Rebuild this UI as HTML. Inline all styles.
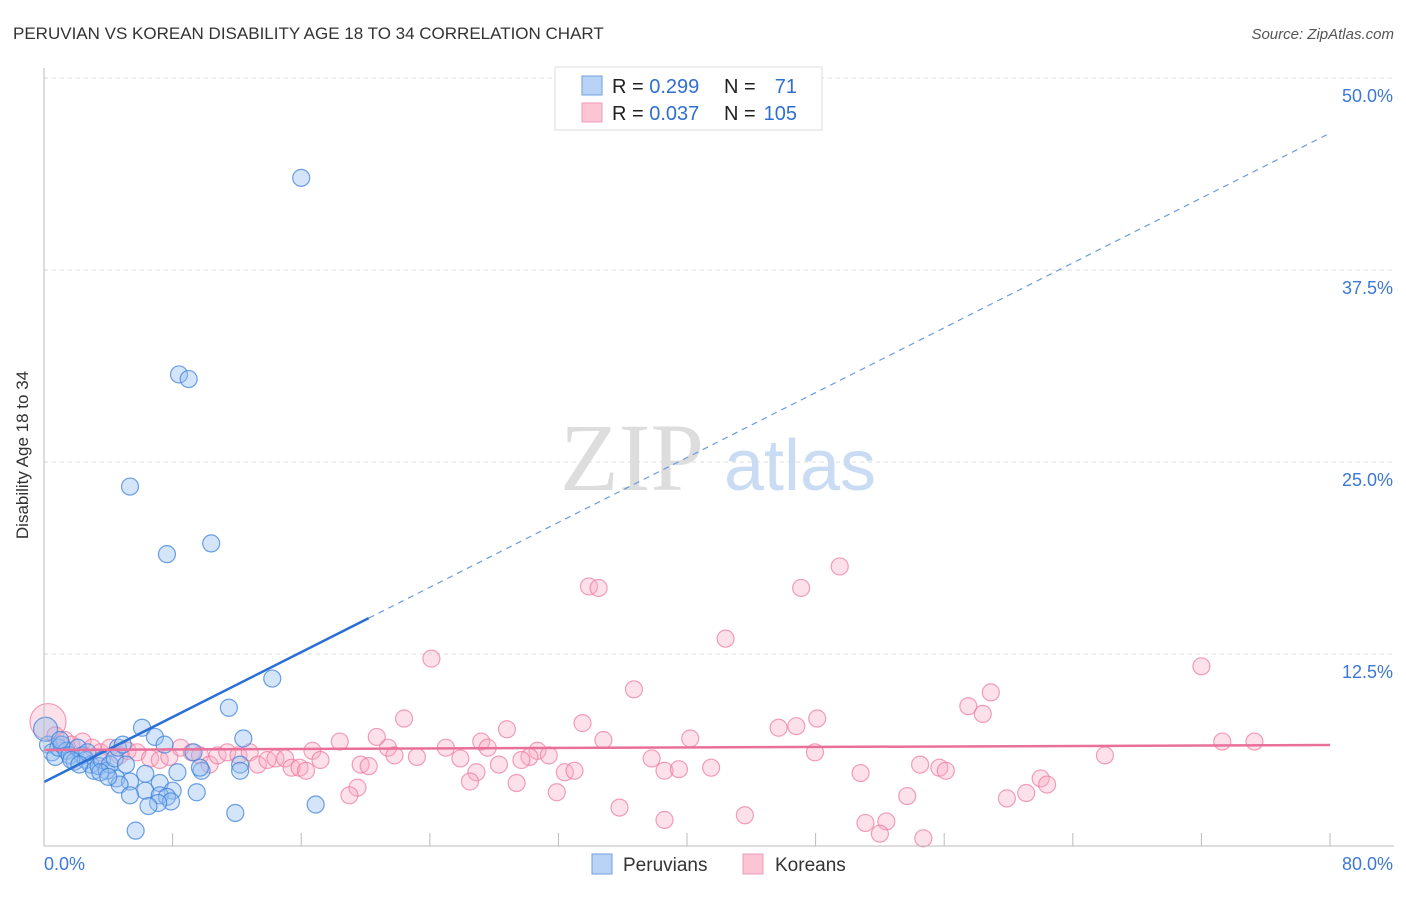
<!DOCTYPE html>
<html><head><meta charset="utf-8"><style>
body{margin:0;background:#fff;font-family:"Liberation Sans",sans-serif}
svg text{font-family:"Liberation Sans",sans-serif}
</style></head><body>
<svg id="chart" width="1406" height="892" xmlns="http://www.w3.org/2000/svg">
<text x="13" y="39" font-size="17" fill="#333">PERUVIAN VS KOREAN DISABILITY AGE 18 TO 34 CORRELATION CHART</text>
<text x="1394" y="39" font-size="15" fill="#555" font-style="italic" text-anchor="end">Source: ZipAtlas.com</text>
<g id="grid"></g>
<g>
<text x="632" y="490" font-size="96" fill="#ddd" font-family="Liberation Serif" text-anchor="middle" style="font-family:'Liberation Serif',serif">ZIP</text>
<text x="800" y="490" font-size="72" fill="#c9dcf3" text-anchor="middle">atlas</text>
</g>
<g id="pts"></g>
<g id="lines"></g>
<text x="28" y="455" font-size="17" fill="#333" text-anchor="middle" transform="rotate(-90 28 455)">Disability Age 18 to 34</text>
<g id="ticks"></g>
<g>
<rect x="555" y="67" width="267" height="63" fill="#fff" stroke="#ddd"/>
<rect x="582" y="76" width="20" height="19" fill="#b8d3f5" stroke="#6fa0e0"/>
<rect x="582" y="103" width="20" height="19" fill="#fbc5d5" stroke="#f09ab4"/>
<text x="612" y="93" font-size="20" fill="#222">R = <tspan fill="#2f6fd0">0.299</tspan></text>
<text x="724" y="93" font-size="20" fill="#222">N = </text><text x="797" y="93" font-size="20" fill="#2f6fd0" text-anchor="end">71</text>
<text x="612" y="120" font-size="20" fill="#222">R = <tspan fill="#2f6fd0">0.037</tspan></text>
<text x="724" y="120" font-size="20" fill="#222">N = </text><text x="797" y="120" font-size="20" fill="#2f6fd0" text-anchor="end">105</text>
</g>
<g>
<rect x="592" y="854" width="20" height="20" fill="#b8d3f5" stroke="#6fa0e0"/>
<text x="623" y="871" font-size="19" fill="#333">Peruvians</text>
<rect x="743" y="854" width="20" height="20" fill="#fbc5d5" stroke="#f09ab4"/>
<text x="775" y="871" font-size="19" fill="#333">Koreans</text>
</g>
</svg>
<script>
const yTicks=[12.5,25,37.5,50];
const yTickLabels=["12.5%","25.0%","37.5%","50.0%"];
const xTickLabels=["0.0%","80.0%"];
const blueX=[16.0,8.4,9.0,5.35,10.4,7.65,14.2,11.5,6.1,6.9,12.4,7.5,9.3,12.2,12.2,8.3,9.8,9.7,6.3,4.5,5.35,7.2,4.7,6.3,5.35,8.0,9.5,7.2,7.65,7.9,7.1,6.5,16.9,11.9,5.7,0.25,0.5,0.7,0.9,1.1,1.4,1.6,1.9,2.1,2.4,2.6,2.9,3.1,3.4,3.6,3.9,4.1,4.4,4.6,4.9,5.1,3.5,2.7,0.1,1.0,1.7,4.0,2.2];
const blueY=[43.5,30.7,30.4,23.4,19.7,19.0,10.9,9.0,7.7,7.1,7.0,6.6,6.1,5.3,4.9,4.8,4.9,5.1,4.7,4.4,4.2,4.1,4.0,3.6,3.3,3.6,3.5,3.3,3.2,2.9,2.8,2.6,2.7,2.15,1.0,6.6,6.1,5.8,6.4,6.6,6.2,5.9,5.5,6.4,5.9,5.6,5.3,4.9,5.2,5.6,4.9,5.3,5.7,6.4,6.6,5.3,4.8,6.1,7.6,6.9,5.6,4.5,5.3];
const pinkX=[49.5,33.9,34.5,47.1,42.4,24.1,72.0,36.7,58.9,57.5,58.4,22.4,48.1,33.5,45.7,46.8,28.8,20.7,34.8,40.2,73.3,75.3,18.4,27.2,27.6,21.4,25.0,30.7,16.7,47.96,66.0,31.4,30.2,21.8,23.2,25.9,37.8,17.2,19.7,20.2,28.3,29.7,41.5,54.5,55.7,56.1,38.6,39.5,32.4,33.0,26.9,50.8,26.5,29.4,62.0,62.4,19.5,19.0,61.1,59.9,53.7,31.9,35.8,43.6,38.6,51.1,52.4,52.0,54.7,0.25,0.7,1.3,1.7,2.4,3.0,3.5,4.1,4.7,5.2,5.8,6.6,7.2,7.8,8.5,9.2,9.7,10.3,10.8,11.4,12.1,12.8,13.3,13.9,14.4,15.0,15.4,15.9,16.3];
const pinkY=[18.2,16.9,16.8,16.8,13.5,12.2,11.7,10.2,10.0,9.1,8.6,8.3,8.3,8.0,7.7,7.8,7.6,7.1,6.9,7.0,6.8,6.8,6.8,6.8,6.4,6.4,6.4,6.2,6.2,6.1,5.9,5.9,5.8,5.9,5.8,5.7,5.7,5.6,5.3,5.2,5.3,5.6,5.1,5.3,5.1,4.9,4.9,5.0,4.8,4.9,4.8,4.75,4.2,4.1,4.4,4.0,3.8,3.3,3.45,3.1,3.25,3.5,2.5,2.0,1.7,1.5,1.6,0.8,0.5,8.1,7.2,6.9,6.6,6.8,6.4,6.1,6.4,5.9,6.2,6.1,5.7,5.6,5.8,6.4,6.1,5.9,5.3,5.9,6.1,5.9,6.1,5.3,5.6,5.7,5.7,5.1,5.1,4.9];
const blueTrend=[4.17,0.528];
const pinkTrend=[6.25,0.0041];
const X0=44,X1=1330,Y0=846,YS=192/12.5;
const sx=v=>X0+(v/80)*(X1-X0), sy=v=>Y0-v*YS;
const NS="http://www.w3.org/2000/svg";
function mk(t,a,p){const e=document.createElementNS(NS,t);for(const k in a)e.setAttribute(k,a[k]);p.appendChild(e);return e;}
const grid=document.getElementById('grid'),ticks=document.getElementById('ticks');
yTicks.forEach((v,i)=>{
 const l=mk('line',{x1:X0,x2:1394,y1:sy(v),y2:sy(v),stroke:'#ddd','stroke-dasharray':'4,4'},grid);
 
 
 const t=mk('text',{x:1393,y:sy(v)+24,'font-size':18,fill:'#3b78d8','text-anchor':'end'},ticks);
 t.textContent=yTickLabels[i];
 
 
});
const ax=mk('line',{x1:X0,x2:X0,y1:68,y2:Y0,stroke:'#bbb'},ticks);


const bx=mk('line',{x1:X0,x2:1394,y1:Y0,y2:Y0,stroke:'#bbb'},ticks);


for(let i=1;i<=10;i++){const v=i*8;const t=mk('line',{x1:sx(v),x2:sx(v),y1:Y0-13,y2:Y0,stroke:'#bbb'},ticks);
 
 }
[[0,'start',44],[80,'end',1393]].forEach((d,i)=>{const t=mk('text',{x:d[2],y:870,'font-size':18,fill:'#3b78d8','text-anchor':d[1]},ticks);t.textContent=xTickLabels[i];
 
 });
const pts=document.getElementById('pts');
pinkX.forEach((x,i)=>{const c=mk('circle',{cx:sx(x),cy:sy(pinkY[i]),r:(i==69?18:8.5),fill:'rgba(248,170,195,0.35)',stroke:'rgba(236,120,155,0.7)','stroke-width':1.2},pts);
 
 });
blueX.forEach((x,i)=>{const c=mk('circle',{cx:sx(x),cy:sy(blueY[i]),r:(i==58?12:8.5),fill:'rgba(150,190,240,0.4)',stroke:'rgba(60,130,220,0.75)','stroke-width':1.2},pts);
 
 });
const lines=document.getElementById('lines');
const bs=mk('line',{x1:sx(0),y1:sy(blueTrend[0]),x2:sx(20.2),y2:sy(blueTrend[0]+blueTrend[1]*20.2),stroke:'#2a6fd6','stroke-width':2.5},lines);


const bd=mk('line',{x1:sx(20.2),y1:sy(blueTrend[0]+blueTrend[1]*20.2),x2:sx(80),y2:sy(blueTrend[0]+blueTrend[1]*80),stroke:'#6a9be0','stroke-width':1.2,'stroke-dasharray':'6,5'},lines);


const pl=mk('line',{x1:sx(0),y1:sy(pinkTrend[0]),x2:sx(80),y2:sy(pinkTrend[0]+pinkTrend[1]*80),stroke:'#e8709a','stroke-width':2.5},lines);


</script>
</body></html>
